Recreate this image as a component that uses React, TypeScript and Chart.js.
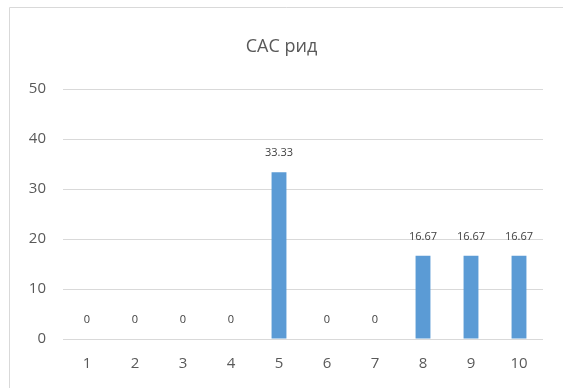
import React, { useEffect, useRef } from "react";
import { Chart, registerables } from "chart.js";

Chart.register(...registerables);

const chartTitle = "САС рид";
const categories = ["1", "2", "3", "4", "5", "6", "7", "8", "9", "10"];
const values = [0, 0, 0, 0, 33.33, 0, 0, 16.67, 16.67, 16.67];
const valueLabels = ["0", "0", "0", "0", "33.33", "0", "0", "16.67", "16.67", "16.67"];
const yMin = 0;
const yMax = 50;
const yStep = 10;

const FONT = "'Open Sans', 'Noto Sans', sans-serif";

const framePlugin = {
  id: "frame",
  beforeDraw(chart: any) {
    const ctx = chart.ctx;
    ctx.save();
    ctx.strokeStyle = "#d9d9d9";
    ctx.lineWidth = 1;
    ctx.beginPath();
    ctx.moveTo(9.5, chart.height);
    ctx.lineTo(9.5, 7.5);
    ctx.lineTo(chart.width, 7.5);
    ctx.stroke();
    ctx.restore();
  },
};

const labelPlugin = {
  id: "valueLabels",
  afterDatasetsDraw(chart: any) {
    const ctx = chart.ctx;
    const meta = chart.getDatasetMeta(0);
    ctx.save();
    ctx.font = `11px ${FONT}`;
    ctx.fillStyle = "#404040";
    ctx.textAlign = "center";
    ctx.textBaseline = "middle";
    meta.data.forEach((bar: any, i: number) => {
      ctx.fillText(valueLabels[i], bar.x, bar.y - 19);
    });
    ctx.restore();
  },
};

export default function App() {
  const ref = useRef<HTMLCanvasElement | null>(null);

  useEffect(() => {
    if (!ref.current) return;
    const chart = new Chart(ref.current, {
      type: "bar",
      data: {
        labels: categories,
        datasets: [
          {
            data: values,
            backgroundColor: "#5b9bd5",
            borderWidth: 0,
            barPercentage: 0.31,
            categoryPercentage: 1,
          },
        ],
      },
      options: {
        animation: false,
        responsive: false,
        maintainAspectRatio: false,
        layout: { padding: { top: 36, right: 20, bottom: 0, left: 20 } },
        plugins: {
          legend: { display: false },
          tooltip: { enabled: false },
          title: {
            display: true,
            text: chartTitle,
            color: "#595959",
            font: { family: FONT, size: 18, weight: "normal", lineHeight: 1.2 },
            padding: { top: 0, bottom: 89 - 36 - 21.6 },
          },
        },
        scales: {
          x: {
            grid: { display: false, drawTicks: false },
            border: { display: false },
            ticks: {
              color: "#595959",
              font: { family: FONT, size: 15 },
              padding: 16,
            },
            afterFit: (scale: any) => {
              scale.height = 49;
            },
          },
          y: {
            min: yMin,
            max: yMax,
            grid: { color: "#d9d9d9", lineWidth: 1, drawTicks: false },
            border: { display: false },
            ticks: {
              stepSize: yStep,
              color: "#595959",
              font: { family: FONT, size: 15 },
              padding: 17,
            },
            afterFit: (scale: any) => {
              scale.width = 43;
            },
          },
        },
      },
      plugins: [framePlugin, labelPlugin],
    });
    return () => chart.destroy();
  }, []);

  return (
    <div style={{ position: "fixed", left: 0, top: 0, width: 563, height: 388, background: "#fff" }}>
      <canvas ref={ref} width={563} height={388} style={{ display: "block" }} />
    </div>
  );
}
